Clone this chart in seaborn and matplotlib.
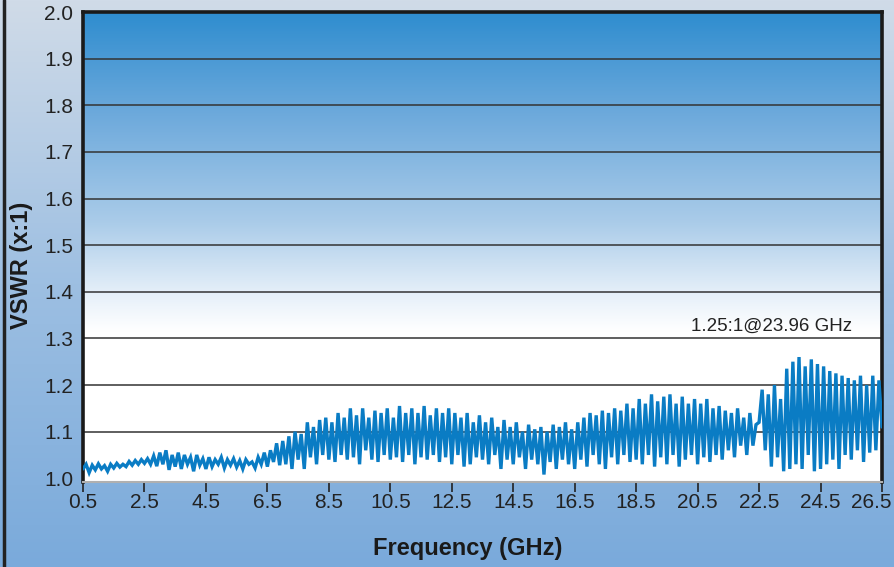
import numpy as np
import pandas as pd
import matplotlib
matplotlib.use("Agg")
import matplotlib.pyplot as plt
from matplotlib.colors import LinearSegmentedColormap
from matplotlib.lines import Line2D
import seaborn as sns

# Dados (VSWR a cada 0.1 GHz, de 0.5 a 26.5 GHz)
freq_inicio = 0.5
freq_passo = 0.1
vswr = [
    1.02, 1.03, 1.012, 1.028, 1.018, 1.031, 1.02, 1.027, 1.015, 1.03,        # 0.5 - 1.4
    1.022, 1.032, 1.024, 1.03, 1.025, 1.036, 1.028, 1.038, 1.03, 1.04,       # 1.5 - 2.4
    1.032, 1.042, 1.03, 1.048, 1.026, 1.055, 1.03, 1.06, 1.018, 1.05,        # 2.5 - 3.4
    1.025, 1.055, 1.02, 1.05, 1.03, 1.045, 1.015, 1.05, 1.028, 1.042,        # 3.5 - 4.4
    1.02, 1.045, 1.025, 1.04, 1.03, 1.045, 1.022, 1.04, 1.028, 1.042,        # 4.5 - 5.4
    1.024, 1.038, 1.02, 1.04, 1.03, 1.035, 1.022, 1.045, 1.03, 1.055,        # 5.5 - 6.4
    1.025, 1.06, 1.035, 1.075, 1.028, 1.08, 1.03, 1.09, 1.02, 1.1,           # 6.5 - 7.4
    1.04, 1.095, 1.02, 1.12, 1.045, 1.11, 1.03, 1.125, 1.05, 1.13,           # 7.5 - 8.4
    1.04, 1.12, 1.035, 1.14, 1.05, 1.13, 1.04, 1.15, 1.045, 1.135,           # 8.5 - 9.4
    1.03, 1.15, 1.06, 1.13, 1.04, 1.145, 1.035, 1.14, 1.05, 1.15,            # 9.5 - 10.4
    1.04, 1.13, 1.045, 1.155, 1.035, 1.14, 1.05, 1.15, 1.03, 1.14,           # 10.5 - 11.4
    1.045, 1.155, 1.04, 1.135, 1.05, 1.15, 1.035, 1.14, 1.045, 1.15,         # 11.5 - 12.4
    1.03, 1.14, 1.05, 1.13, 1.025, 1.14, 1.03, 1.12, 1.045, 1.135,           # 12.5 - 13.4
    1.04, 1.12, 1.03, 1.13, 1.05, 1.11, 1.02, 1.125, 1.04, 1.11,             # 13.5 - 14.4
    1.03, 1.12, 1.045, 1.10, 1.02, 1.115, 1.04, 1.105, 1.03, 1.11,           # 14.5 - 15.4
    1.008, 1.10, 1.035, 1.115, 1.02, 1.11, 1.04, 1.12, 1.03, 1.105,          # 15.5 - 16.4
    1.02, 1.12, 1.04, 1.13, 1.025, 1.14, 1.05, 1.135, 1.03, 1.145,           # 16.5 - 17.4
    1.02, 1.14, 1.045, 1.15, 1.03, 1.145, 1.05, 1.16, 1.035, 1.15,           # 17.5 - 18.4
    1.04, 1.17, 1.03, 1.16, 1.05, 1.18, 1.025, 1.165, 1.045, 1.175,          # 18.5 - 19.4
    1.03, 1.18, 1.05, 1.16, 1.025, 1.175, 1.04, 1.16, 1.05, 1.17,            # 19.5 - 20.4
    1.03, 1.16, 1.045, 1.17, 1.035, 1.15, 1.05, 1.155, 1.04, 1.145,          # 20.5 - 21.4
    1.06, 1.14, 1.045, 1.15, 1.07, 1.13, 1.05, 1.14, 1.07, 1.115,            # 21.5 - 22.4
    1.12, 1.19, 1.06, 1.18, 1.025, 1.2, 1.045, 1.17, 1.015, 1.235,           # 22.5 - 23.4
    1.02, 1.25, 1.03, 1.26, 1.02, 1.24, 1.05, 1.255, 1.015, 1.245,           # 23.5 - 24.4
    1.02, 1.24, 1.03, 1.23, 1.04, 1.225, 1.02, 1.22, 1.05, 1.215,            # 24.5 - 25.4
    1.04, 1.21, 1.06, 1.22, 1.035, 1.2, 1.055, 1.22, 1.06, 1.21,             # 25.5 - 26.4
    1.11,                                                                    # 26.5
]
freq = [round(freq_inicio + freq_passo * i, 1) for i in range(len(vswr))]

x_ticks = [0.5, 2.5, 4.5, 6.5, 8.5, 10.5, 12.5, 14.5, 16.5, 18.5, 20.5, 22.5, 24.5, 26.5]
y_ticks = [1.0, 1.1, 1.2, 1.3, 1.4, 1.5, 1.6, 1.7, 1.8, 1.9, 2.0]
anotacao = "1.25:1@23.96 GHz"

df = pd.DataFrame({"freq": freq, "vswr": vswr})

sns.set_theme(style="white")
plt.rcParams["font.family"] = ["Liberation Sans", "DejaVu Sans"]

fig = plt.figure(figsize=(8.95, 5.67), dpi=100)

# Fundo da figura (degradê azul claro)
bg = fig.add_axes([0, 0, 1, 1], zorder=-10)
bg.axis("off")
cmap_fig = LinearSegmentedColormap.from_list("fig", ["#7aaadb", "#9dbfe2", "#d0dbe8"])
bg.imshow(np.linspace(0, 1, 256).reshape(-1, 1), cmap=cmap_fig, origin="lower",
          aspect="auto", extent=[0, 1, 0, 1])
fig.add_artist(Line2D([0.004, 0.004], [0, 1], transform=fig.transFigure,
                      color="#222222", lw=2.5))

ax = fig.add_axes([83 / 895, 85 / 567, 799 / 895, 470 / 567])

# Fundo do gráfico: azul no topo indo para branco
cmap_ax = LinearSegmentedColormap.from_list(
    "ax", [(0, "#ffffff"), (0.32, "#ffffff"), (0.40, "#e6f0f9"), (0.55, "#abcce9"),
           (0.78, "#6eaadc"), (1.0, "#2f8dcf")])
ax.imshow(np.linspace(0, 1, 256).reshape(-1, 1), cmap=cmap_ax, origin="lower",
          aspect="auto", extent=[0, 1, 0, 1], transform=ax.transAxes, zorder=0)

for yv in y_ticks[1:-1]:
    ax.axhline(yv, color="#333333", lw=1.1, zorder=1)

sns.lineplot(data=df, x="freq", y="vswr", ax=ax, color="#0a7cc4", lw=2.4, zorder=3)
for linha in ax.lines[-1:]:
    linha.set_solid_joinstyle("miter")

ax.set_xlim(0.5, 26.5)
ax.set_ylim(0.992, 2.0)
ax.set_xticks(x_ticks)
# o último rótulo é escrito à parte, um pouco para a esquerda, para caber na figura
ax.set_xticklabels([str(t) for t in x_ticks[:-1]] + [""])
ax.set_yticks(y_ticks)
ax.set_yticklabels([f"{t:.1f}" for t in y_ticks])
ax.tick_params(axis="x", direction="out", length=7, width=1.2, color="#222222",
               pad=1, labelsize=15, labelcolor="#222222", bottom=True)
ax.tick_params(axis="y", length=0, pad=7, labelsize=15, labelcolor="#222222", left=False)
ax.annotate(str(x_ticks[-1]), xy=(x_ticks[-1], 0), xycoords=ax.get_xaxis_transform(),
            xytext=(-7.5, -8), textcoords="offset points", ha="center", va="top",
            fontsize=15, color="#222222", annotation_clip=False)

for lado in ["left", "top", "right"]:
    ax.spines[lado].set_color("#1a1a1a")
    ax.spines[lado].set_linewidth(2.6)
ax.spines["bottom"].set_color("#b0b0b0")
ax.spines["bottom"].set_linewidth(1.5)

ax.set_xlabel("Frequency (GHz)", fontsize=17, fontweight="bold", color="#1a1a1a", va="center")
ax.xaxis.set_label_coords((468 - 83) / 799, -(548 - 482) / 470)
ax.set_ylabel("VSWR (x:1)", fontsize=17, fontweight="bold", color="#1a1a1a", va="center")
ax.yaxis.set_label_coords(-(83 - 22) / 799, (482 - 265) / 470)

ax.text(22.9, 1.307, anotacao, ha="center", va="bottom", fontsize=13.5, color="#222222", zorder=4)

fig.savefig("out.png", dpi=100)
